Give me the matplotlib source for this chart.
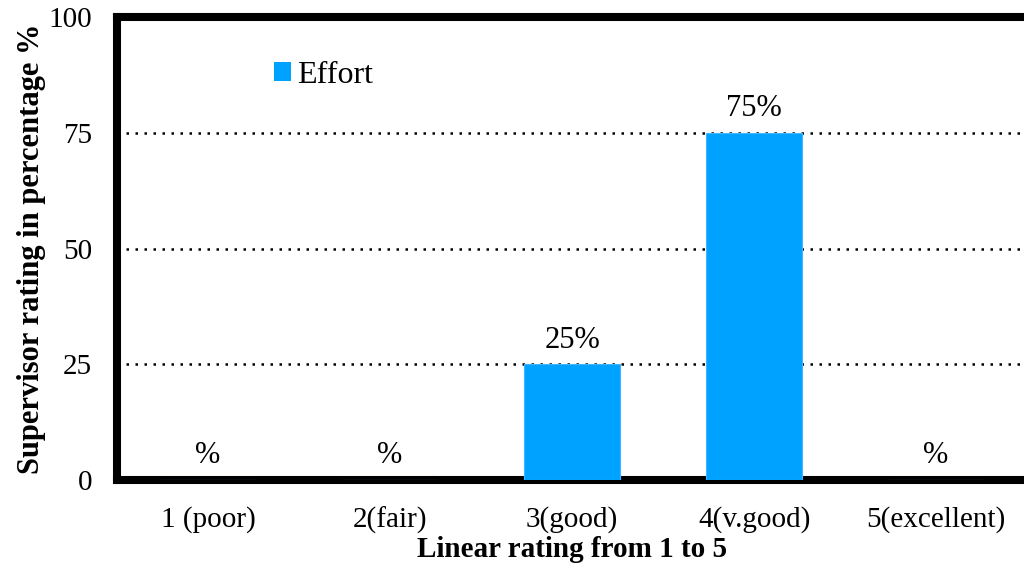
import numpy as np
import matplotlib.pyplot as plt
from matplotlib.patches import Patch

plt.rcParams['font.family'] = ['Liberation Serif', 'DejaVu Serif']

# rating categories and share of supervisors (%)
categories = ['1 (poor)', '2(fair)', '3(good)', '4(v.good)', '5(excellent)']
effort = [0, 0, 25, 75, 0]
series_name = 'Effort'
bar_color = '#00A2FF'

fig = plt.figure(figsize=(10.24, 5.73), dpi=100)
ax = fig.add_axes([0.1143, 0.1623, 0.8887, 0.808])

x = np.arange(len(categories))
bars = ax.bar(x, effort, width=0.53, color=bar_color, edgecolor='#3FB6FF',
              linewidth=0.8, zorder=3)

# value labels, empty values only show the percent sign
for xi, v in zip(x, effort):
    txt = '%d%%' % v if v else '%'
    ax.annotate(txt, (xi, v), xytext=(0, 7), textcoords='offset points',
                ha='center', va='bottom', fontsize=22)

ax.set_xlim(-0.5, len(categories) - 0.5)
ax.set_ylim(0, 100)
ax.set_yticks([0, 25, 50, 75, 100])
ax.set_xticks(x)
ax.set_xticklabels(categories)
ax.tick_params(axis='both', length=0, labelsize=21)
ax.tick_params(axis='x', pad=19)
ax.tick_params(axis='y', pad=18)

for yv in [25, 50, 75]:
    ax.axhline(yv, color='black', linestyle=(0, (1, 2.6)), linewidth=1.8, zorder=1)

for s in ['left', 'top', 'bottom']:
    ax.spines[s].set_linewidth(5.8)
ax.spines['right'].set_visible(False)

ax.set_xlabel('Linear rating from 1 to 5', fontsize=21, fontweight='bold', labelpad=2)
ax.set_ylabel('Supervisor rating in percentage %', fontsize=22, fontweight='bold',
              labelpad=2)

handle = Patch(facecolor=bar_color, edgecolor='none')
ax.legend([handle], [series_name], loc='upper left', bbox_to_anchor=(0.172, 0.905),
          frameon=False, fontsize=23, handlelength=0.55, handleheight=0.55,
          handletextpad=0.2, borderpad=0, borderaxespad=0)

fig.savefig('out.png', dpi=100)
